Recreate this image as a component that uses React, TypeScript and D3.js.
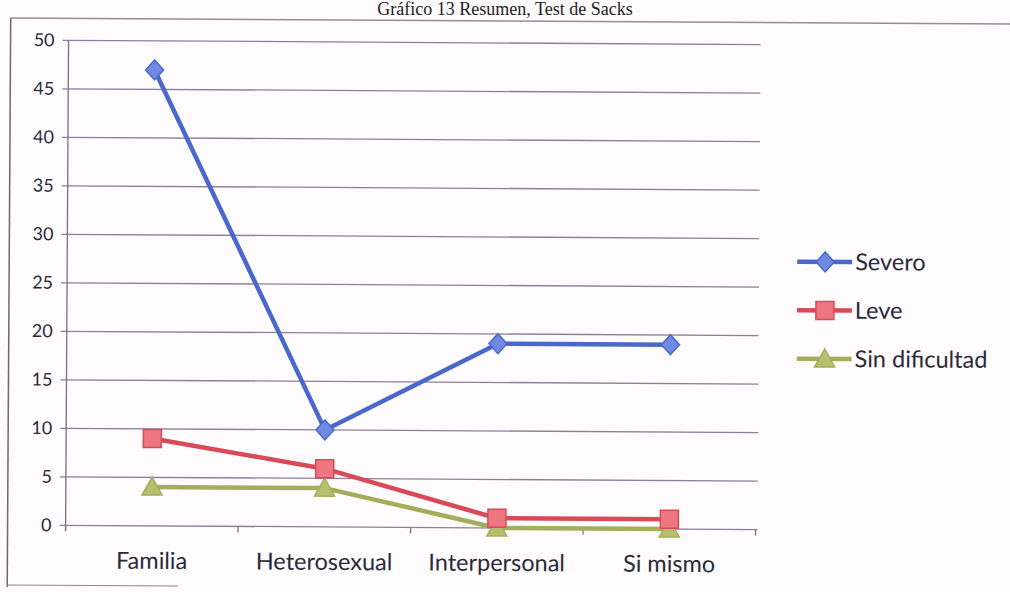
import React from 'react'
import * as d3 from 'd3'

const categories = ['Familia', 'Heterosexual', 'Interpersonal', 'Si mismo']
const severo = [47, 10, 19, 19]
const leve = [9, 6, 1, 1]
const sinDificultad = [4, 4, 0, 0]
const yTicks = [0, 5, 10, 15, 20, 25, 30, 35, 40, 45, 50]
const title = 'Gráfico 13 Resumen, Test de Sacks'

const W = 1010
const H = 592
const font = 'Lato, "Open Sans", sans-serif'

const series = [
  { name: 'Severo', values: severo, color: '#4a68cc', fill: '#6f8ae0', shape: 'diamond' },
  { name: 'Leve', values: leve, color: '#d84a58', fill: '#ee7680', shape: 'square' },
  { name: 'Sin dificultad', values: sinDificultad, color: '#a3ad5c', fill: '#b8c070', shape: 'triangle' }
]

const Marker = ({ shape, x, y, color, fill }: any) => {
  if (shape === 'diamond') {
    return <path d={`M${x},${y - 10} L${x + 9},${y} L${x},${y + 10} L${x - 9},${y} Z`} fill={fill} stroke={color} strokeWidth={1.5} />
  }
  if (shape === 'square') {
    return <rect x={x - 9} y={y - 9} width={18} height={18} fill={fill} stroke={color} strokeWidth={1.5} />
  }
  return <path d={`M${x},${y - 10} L${x + 10},${y + 8} L${x - 10},${y + 8} Z`} fill={fill} stroke={color} strokeWidth={1.5} />
}

const App = () => {
  const x = d3.scaleBand().domain(categories).range([67, 757])
  const y = d3.scaleLinear().domain([0, 50]).range([528, 43])
  const line = d3.line<number>()
    .x((_, i) => x(categories[i])! + x.bandwidth() / 2)
    .y(d => y(d))

  const bounds = [...categories.map(c => x(c)!), 757]

  return (
    <svg width={W} height={H} style={{ position: 'absolute', left: 0, top: 0, background: '#fdfbfc' }}>
      <text x={505} y={15} textAnchor='middle' fontFamily='"Liberation Serif", serif' fontSize={18} fill='#222'>{title}</text>
      <g transform={`rotate(0.35 ${W / 2} ${H / 2})`}>
        {/* frame */}
        <line x1={9} y1={21} x2={1015} y2={21} stroke='#9a8a9a' strokeWidth={1.5} />
        <line x1={9} y1={21} x2={9} y2={590} stroke='#6a6a6a' strokeWidth={1.5} />
        <line x1={9} y1={588} x2={180} y2={588} stroke='#8a8a8a' strokeWidth={1} />

        {/* grid */}
        {yTicks.map(t => (
          <g key={t}>
            <line x1={61} x2={759} y1={y(t)} y2={y(t)} stroke='#8c7f9c' strokeWidth={1.3} />
            <text x={53} y={y(t) + 6} textAnchor='end' fontFamily={font} fontSize={18} fill='#2a2a3a'>{t}</text>
          </g>
        ))}
        <line x1={67} x2={67} y1={y(50)} y2={y(0) + 6} stroke='#7a7080' strokeWidth={1.3} />
        {bounds.map((b, i) => (
          <line key={i} x1={b} x2={b} y1={y(0)} y2={y(0) + 6} stroke='#7a7080' strokeWidth={1.3} />
        ))}
        {categories.map(c => (
          <text key={c} x={x(c)! + x.bandwidth() / 2} y={571} textAnchor='middle' fontFamily={font} fontSize={23.5} fill='#2a2a3a'>{c}</text>
        ))}

        {/* series */}
        {series.slice().reverse().map(s => (
          <g key={s.name}>
            <path d={line(s.values)!} fill='none' stroke={s.color} strokeWidth={4.5} strokeLinejoin='round' />
            {s.values.map((v, i) => (
              <Marker key={i} shape={s.shape} x={x(categories[i])! + x.bandwidth() / 2} y={y(v)} color={s.color} fill={s.fill} />
            ))}
          </g>
        ))}

        {/* legend */}
        {series.map((s, i) => {
          const ly = 260 + i * 48.5
          return (
            <g key={s.name}>
              <line x1={797} x2={852} y1={ly} y2={ly} stroke={s.color} strokeWidth={4.5} />
              <Marker shape={s.shape} x={825} y={ly} color={s.color} fill={s.fill} />
              <text x={855} y={ly + 8} fontFamily={font} fontSize={23.5} fill='#2a2a3a'>{s.name}</text>
            </g>
          )
        })}
      </g>
    </svg>
  )
}

export default App
